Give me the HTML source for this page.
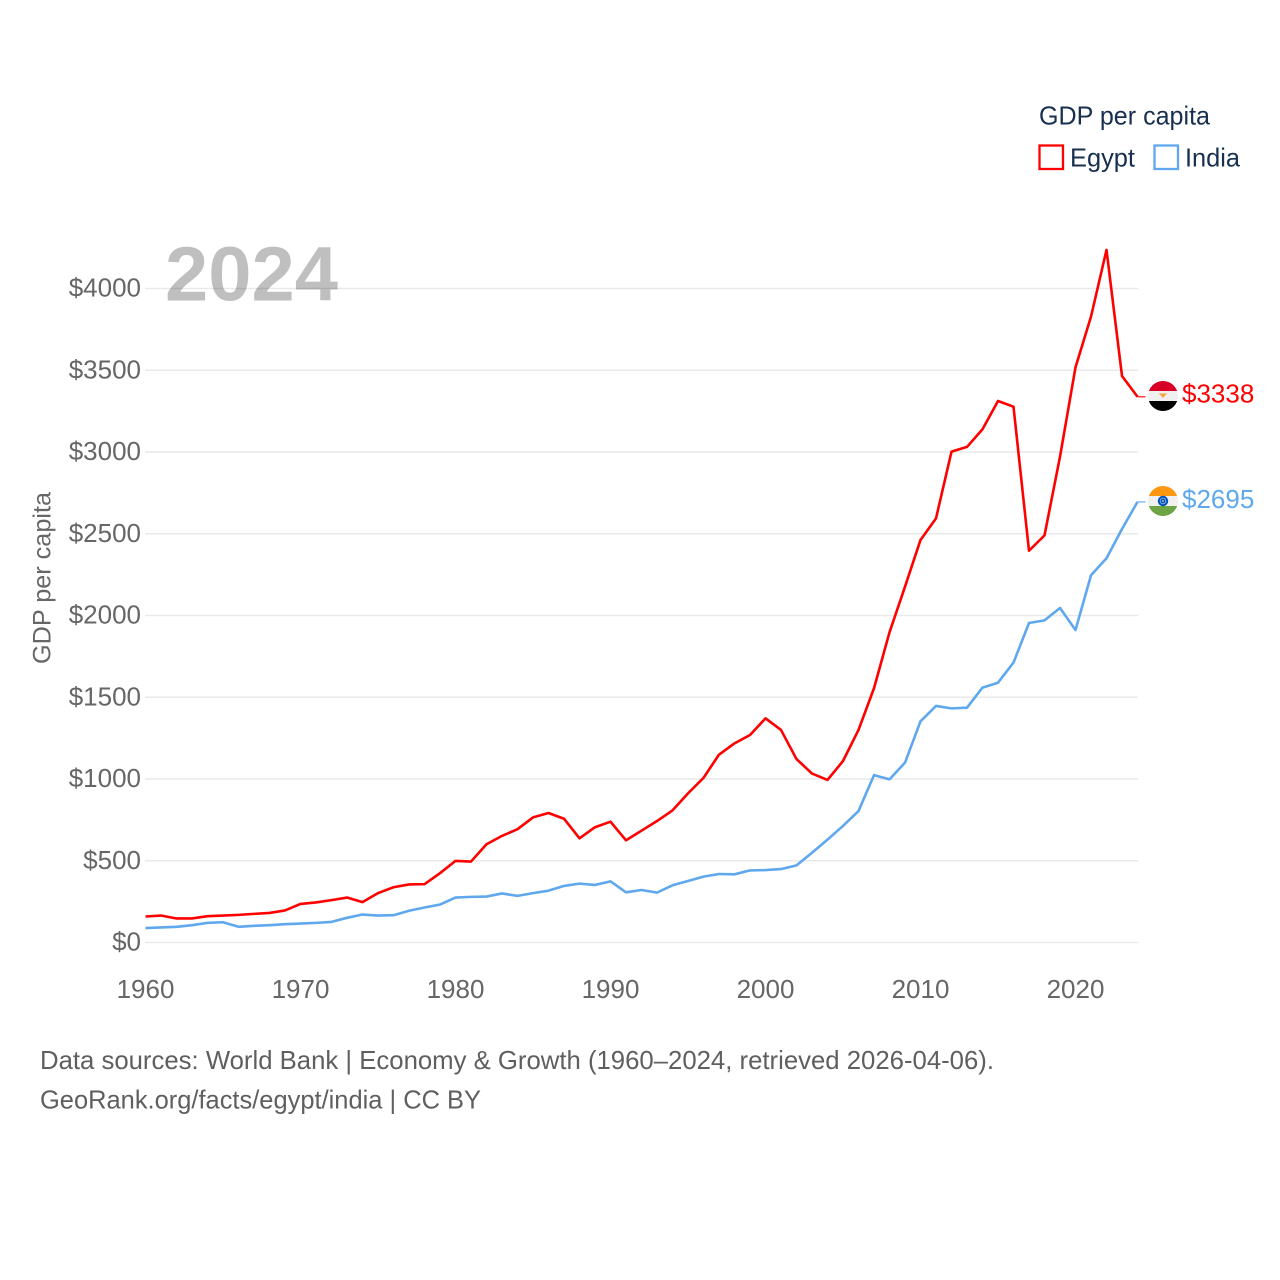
<!DOCTYPE html>
<html lang="en">
<head>
<meta charset="utf-8">
<title>GDP per capita: Egypt and India</title>
<style>
html,body{margin:0;padding:0;background:#fff;}
svg{display:block;font-family:"Liberation Sans","DejaVu Sans",sans-serif;}
</style>
</head>
<body>
<svg id="chart" xmlns="http://www.w3.org/2000/svg" width="1280" height="1280" viewBox="0 0 1280 1280">
  <rect width="1280" height="1280" fill="#fff"/>
  <g id="grid"></g>
  <text x="165" y="300.5" font-size="77" font-weight="700" fill="#000" fill-opacity="0.25" textLength="173" lengthAdjust="spacingAndGlyphs">2024</text>
  <g id="yticks"></g>
  <g id="xticks"></g>
  <text transform="translate(50.5,664) rotate(-90)" font-size="25" fill="#666" textLength="172" lengthAdjust="spacingAndGlyphs">GDP per capita</text>
  <g id="series"></g>

  <defs>
    <clipPath id="clip-eg"><circle cx="1163" cy="396" r="15"/></clipPath>
    <clipPath id="clip-in"><circle cx="1163" cy="501" r="15"/></clipPath>
  </defs>
  <g clip-path="url(#clip-eg)">
    <rect x="1148" y="381" width="30" height="10" fill="#d80027"/>
    <rect x="1148" y="391" width="30" height="10" fill="#f0f0f0"/>
    <rect x="1148" y="401" width="30" height="10" fill="#000"/>
    <path d="M1158.5 393.5h9l-2.5 2-2 2.5-2-2.5z" fill="#f5a33a"/>
  </g>
  <g clip-path="url(#clip-in)">
    <rect x="1148" y="486" width="30" height="10" fill="#ff9811"/>
    <rect x="1148" y="496" width="30" height="10" fill="#f0f0f0"/>
    <rect x="1148" y="506" width="30" height="10" fill="#6da544"/>
    <circle cx="1163" cy="501" r="5.2" fill="#0052b4"/>
    <circle cx="1163" cy="501" r="2.8" fill="none" stroke="#9dbde6" stroke-width="0.8"/>
    <circle cx="1163" cy="501" r="1" fill="#9dbde6"/>
  </g>

  <g id="endlabels"></g>

  <g>
    <text x="1039" y="124.5" font-size="26" fill="#18304f" textLength="171" lengthAdjust="spacingAndGlyphs">GDP per capita</text>
    <rect x="1039.5" y="145.5" width="23.5" height="23.5" fill="none" stroke="#ff0000" stroke-width="2.3"/>
    <text x="1070" y="166.5" font-size="26" fill="#18304f" textLength="65" lengthAdjust="spacingAndGlyphs">Egypt</text>
    <rect x="1154.5" y="145.5" width="23.5" height="23.5" fill="none" stroke="#5fa8ee" stroke-width="2.3"/>
    <text x="1185" y="166.5" font-size="26" fill="#18304f" textLength="55" lengthAdjust="spacingAndGlyphs">India</text>
  </g>

  <text x="40" y="1069" font-size="26" fill="#5f5f5f" textLength="954" lengthAdjust="spacingAndGlyphs">Data sources: World Bank | Economy &amp; Growth (1960–2024, retrieved 2026-04-06).</text>
  <text x="40" y="1108.5" font-size="26" fill="#5f5f5f" textLength="441" lengthAdjust="spacingAndGlyphs">GeoRank.org/facts/egypt/india | CC BY</text>
</svg>
<script>
const startYear = 1960;
const egyptValues = [159,165,147,147,161,165,169,175,181,196,236,245,259,275,247,302,338,355,357,424,499,495,601,652,693,765,792,757,637,705,739,625,684,743,808,912,1007,1149,1218,1269,1371,1300,1122,1033,994,1110,1300,1555,1897,2176,2462,2594,3002,3031,3139,3312,3277,2396,2490,2971,3518,3828,4236,3465,3338];
const indiaValues = [88,92,96,106,120,124,96,102,106,112,116,120,126,151,171,165,167,194,214,232,275,279,281,300,285,302,317,346,360,352,374,307,321,305,350,376,403,419,417,441,443,449,472,549,629,713,804,1024,998,1100,1353,1447,1432,1436,1559,1589,1712,1954,1970,2046,1911,2246,2350,2529,2695];
const yTickValues = [0,500,1000,1500,2000,2500,3000,3500,4000];
const xTickYears = [1960,1970,1980,1990,2000,2010,2020];

const SVG_NS = 'http://www.w3.org/2000/svg';
function xScale(year){ return 145.5 + (year - 1960) * 15.5; }
function yScale(v){ return 942.5 - v * 0.1635; }
function make(tag){ return document.createElementNS(SVG_NS, tag); }

const gridG = document.getElementById('grid');
const yG = document.getElementById('yticks');
yTickValues.forEach(function(v){
  const line = make('line');
  
  
  line.setAttribute('x1', 145);
  line.setAttribute('x2', 1138);
  line.setAttribute('y1', yScale(v));
  line.setAttribute('y2', yScale(v));
  line.setAttribute('stroke', '#e9e9e9');
  line.setAttribute('stroke-width', '1.4');
  gridG.appendChild(line);

  const t = make('text');
  
  
  t.setAttribute('x', 141);
  t.setAttribute('y', yScale(v) + 8);
  t.setAttribute('text-anchor', 'end');
  t.setAttribute('font-size', '26');
  t.setAttribute('fill', '#666');
  t.textContent = '$' + v;
  yG.appendChild(t);
});

const xG = document.getElementById('xticks');
xTickYears.forEach(function(y){
  const t = make('text');
  
  
  t.setAttribute('x', xScale(y));
  t.setAttribute('y', 998);
  t.setAttribute('text-anchor', 'middle');
  t.setAttribute('font-size', '26');
  t.setAttribute('fill', '#666');
  t.textContent = String(y);
  xG.appendChild(t);
});

function pathFor(values){
  return values.map(function(v, i){
    return (i ? 'L' : 'M') + xScale(startYear + i).toFixed(2) + ' ' + yScale(v).toFixed(2);
  }).join(' ');
}

const seriesG = document.getElementById('series');
const labelG = document.getElementById('endlabels');

const egyptLine = make('path');


egyptLine.setAttribute('d', pathFor(egyptValues));
egyptLine.setAttribute('fill', 'none');
egyptLine.setAttribute('stroke', '#ff0000');
egyptLine.setAttribute('stroke-width', '2.6');
egyptLine.setAttribute('stroke-linejoin', 'round');
seriesG.appendChild(egyptLine);

const indiaLine = make('path');


indiaLine.setAttribute('d', pathFor(indiaValues));
indiaLine.setAttribute('fill', 'none');
indiaLine.setAttribute('stroke', '#5fa8ee');
indiaLine.setAttribute('stroke-width', '2.6');
indiaLine.setAttribute('stroke-linejoin', 'round');
seriesG.appendChild(indiaLine);

const lastEgypt = egyptValues[egyptValues.length - 1];
const lastIndia = indiaValues[indiaValues.length - 1];
const lastX = xScale(startYear + egyptValues.length - 1);

const egyptLeader = make('line');


egyptLeader.setAttribute('x1', lastX);
egyptLeader.setAttribute('x2', lastX + 8);
egyptLeader.setAttribute('y1', yScale(lastEgypt));
egyptLeader.setAttribute('y2', yScale(lastEgypt));
egyptLeader.setAttribute('stroke', '#ff0000');
egyptLeader.setAttribute('stroke-opacity', '0.75');
egyptLeader.setAttribute('stroke-width', '1.5');
seriesG.appendChild(egyptLeader);

const indiaLeader = make('line');


indiaLeader.setAttribute('x1', lastX);
indiaLeader.setAttribute('x2', lastX + 8);
indiaLeader.setAttribute('y1', yScale(lastIndia));
indiaLeader.setAttribute('y2', yScale(lastIndia));
indiaLeader.setAttribute('stroke', '#5fa8ee');
indiaLeader.setAttribute('stroke-opacity', '0.75');
indiaLeader.setAttribute('stroke-width', '1.5');
seriesG.appendChild(indiaLeader);

const egyptLabel = make('text');


egyptLabel.setAttribute('x', 1182);
egyptLabel.setAttribute('y', yScale(lastEgypt) + 6);
egyptLabel.setAttribute('font-size', '26');
egyptLabel.setAttribute('fill', '#ff0000');
egyptLabel.textContent = '$' + lastEgypt;
labelG.appendChild(egyptLabel);

const indiaLabel = make('text');


indiaLabel.setAttribute('x', 1182);
indiaLabel.setAttribute('y', yScale(lastIndia) + 6);
indiaLabel.setAttribute('font-size', '26');
indiaLabel.setAttribute('fill', '#5fa8ee');
indiaLabel.textContent = '$' + lastIndia;
labelG.appendChild(indiaLabel);
</script>
</body>
</html>
